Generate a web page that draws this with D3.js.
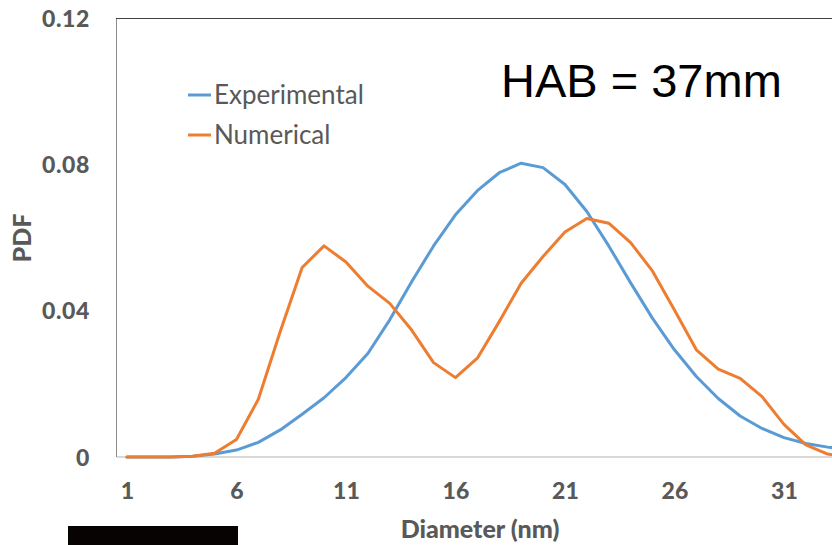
<!DOCTYPE html>
<html>
<head>
<meta charset="utf-8">
<script src="https://cdn.jsdelivr.net/npm/d3@7"></script>
<style>
  html, body { margin: 0; padding: 0; background: #fff; overflow: hidden; }
  svg { display: block; }
</style>
</head>
<body>
<svg id="chart" width="832" height="545"></svg>
<script>
// Particle diameter classes (nm)
const diameters = [1, 2, 3, 4, 5, 6, 7, 8, 9, 10, 11, 12, 13, 14, 15, 16, 17,
  18, 19, 20, 21, 22, 23, 24, 25, 26, 27, 28, 29, 30, 31, 32, 33, 34];

// Probability density per diameter class
const experimental = [0, 0, 0, 0.0002, 0.0008, 0.0019, 0.0040, 0.0074, 0.0117, 0.0162,
  0.0217, 0.0283, 0.0375, 0.0479, 0.0577, 0.0662, 0.0728, 0.0777, 0.0803, 0.0791,
  0.0745, 0.0671, 0.0577, 0.0476, 0.0379, 0.0293, 0.0220, 0.0160, 0.0112, 0.0078,
  0.0053, 0.0037, 0.0027, 0.0020];
const numerical = [0, 0, 0, 0.0002, 0.0010, 0.0048, 0.0158, 0.0343, 0.0518, 0.0577,
  0.0533, 0.0467, 0.0420, 0.0347, 0.0258, 0.0217, 0.0270, 0.0370, 0.0475, 0.0548,
  0.0615, 0.0652, 0.0639, 0.0586, 0.0508, 0.0402, 0.0293, 0.0240, 0.0215, 0.0165,
  0.0089, 0.0033, 0.0008, 0.0000];

const xTickLabels = [1, 6, 11, 16, 21, 26, 31];
const yTickLabels = [0, 0.04, 0.08, 0.12];

const seriesNames = ["Experimental", "Numerical"];
const seriesColors = ["#5B9BD5", "#ED7D31"];
const titleText = "HAB = 37mm";

const svg = d3.select("#chart");
const uiFont = "Lato, 'Open Sans', sans-serif";
const textGray = "#595959";

// Plot frame: left edge, top, bottom; category spacing runs past the right edge
const plotLeft = 116, plotTop = 18, plotBottom = 457, step = 21.9;
const plotRight = plotLeft + step * diameters.length;

const x = d3.scalePoint()
  .domain(diameters)
  .range([plotLeft, plotRight])
  .padding(0.5);

const y = d3.scaleLinear()
  .domain([0, 0.12])
  .range([plotBottom, plotTop]);

// Frame lines
svg.append("line")
  .attr("x1", plotLeft + 0.5).attr("x2", plotLeft + 0.5)
  .attr("y1", plotTop).attr("y2", plotBottom)
  .attr("stroke", "#8c8c8c").attr("stroke-width", 1);
svg.append("line")
  .attr("x1", plotLeft).attr("x2", plotRight)
  .attr("y1", plotTop + 0.5).attr("y2", plotTop + 0.5)
  .attr("stroke", "#404040").attr("stroke-width", 1.2);

// Y axis (labels only)
const yAxis = d3.axisLeft(y)
  .tickValues(yTickLabels)
  .tickSize(0)
  .tickPadding(26)
  .tickFormat(d => d === 0 ? "0" : d3.format(".2f")(d));
const yg = svg.append("g").attr("transform", `translate(${plotLeft},0)`).call(yAxis);
yg.select(".domain").remove();
yg.selectAll("text")
  .attr("fill", textGray)
  .attr("font-family", uiFont)
  .attr("font-weight", 900)
  .attr("font-size", 23)
  .attr("letter-spacing", 0.6)
  .attr("dy", "0.35em");

// Zero baseline
svg.append("line")
  .attr("x1", plotLeft + 1).attr("x2", plotRight)
  .attr("y1", y(0)).attr("y2", y(0))
  .attr("stroke", "#d9d9d9").attr("stroke-width", 2);

// X axis (labels only)
const xAxis = d3.axisBottom(x)
  .tickValues(xTickLabels)
  .tickSize(0)
  .tickPadding(26);
const xg = svg.append("g").attr("transform", `translate(0,${plotBottom})`).call(xAxis);
xg.select(".domain").remove();
xg.selectAll("text")
  .attr("fill", textGray)
  .attr("font-family", uiFont)
  .attr("font-weight", 900)
  .attr("font-size", 23);

// Axis titles
svg.append("text")
  .attr("x", 480).attr("y", 538)
  .attr("text-anchor", "middle")
  .attr("fill", textGray)
  .attr("font-family", uiFont)
  .attr("font-weight", 900)
  .attr("font-size", 25)
  .text("Diameter (nm)");
svg.append("text")
  .attr("transform", "translate(31,238) rotate(-90)")
  .attr("text-anchor", "middle")
  .attr("fill", textGray)
  .attr("font-family", uiFont)
  .attr("font-weight", 900)
  .attr("font-size", 25)
  .text("PDF");

// Series lines
const line = d3.line()
  .x((d, i) => x(diameters[i]))
  .y(d => y(d));
[experimental, numerical].forEach((vals, k) => {
  svg.append("path")
    .datum(vals)
    .attr("fill", "none")
    .attr("stroke", seriesColors[k])
    .attr("stroke-width", 3)
    .attr("stroke-linejoin", "round")
    .attr("stroke-linecap", "round")
    .attr("d", line);
});

// Legend
const legend = svg.append("g").attr("transform", "translate(188,95)");
seriesNames.forEach((name, k) => {
  const row = legend.append("g").attr("transform", `translate(0,${k * 40})`);
  row.append("line")
    .attr("x1", 0).attr("x2", 23)
    .attr("stroke", seriesColors[k]).attr("stroke-width", 3);
  row.append("text")
    .attr("x", 26).attr("y", 0).attr("dy", "0.35em")
    .attr("fill", textGray)
    .attr("font-family", uiFont)
    .attr("font-size", 26)
    .text(name);
});

// Title annotation
svg.append("text")
  .attr("x", 501).attr("y", 97)
  .attr("fill", "#000")
  .attr("font-family", "'Liberation Sans', Arial, sans-serif")
  .attr("font-size", 47)
  .text(titleText);

// Dark strip under the lower-left corner
svg.append("rect")
  .attr("x", 68).attr("y", 526)
  .attr("width", 170).attr("height", 19)
  .attr("fill", "#070303");
</script>
</body>
</html>
